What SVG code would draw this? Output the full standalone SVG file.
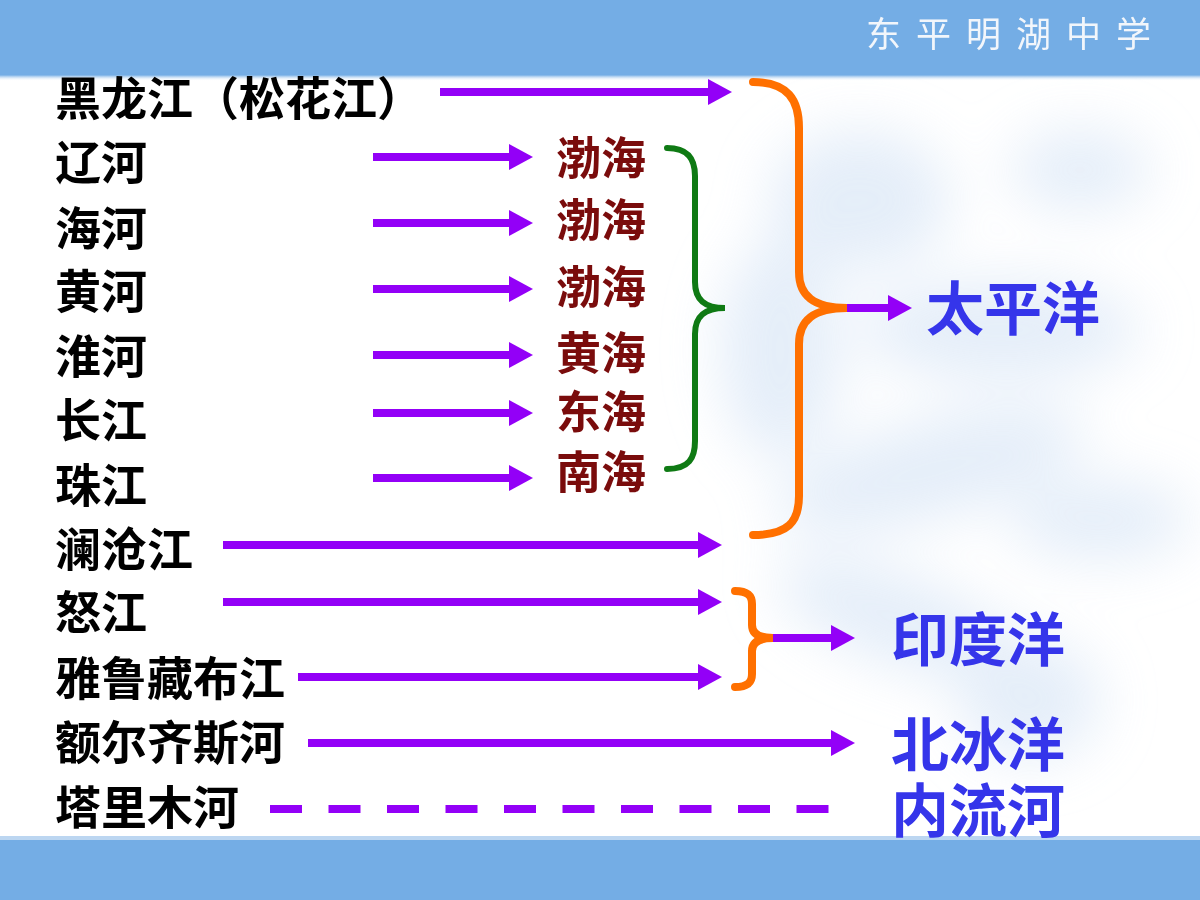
<svg xmlns="http://www.w3.org/2000/svg" width="1200" height="900" viewBox="0 0 1200 900">
<style>
.river{font-family:"Noto Sans CJK SC","Noto Sans CJK JP",sans-serif;font-size:46px;font-weight:700;fill:#000}
.sea{font-family:"Noto Sans CJK SC","Noto Sans CJK JP",sans-serif;font-size:45px;font-weight:700;fill:#7a0c0c}
.ocean{font-family:"Noto Sans CJK SC","Noto Sans CJK JP",sans-serif;font-size:58px;font-weight:700;fill:#3535ea}
.school{font-family:"Noto Sans CJK SC","Noto Sans CJK JP",sans-serif;font-size:35px;font-weight:400;fill:#f2f6fb;letter-spacing:15px}
.arr{stroke:#9300f7;stroke-width:8;fill:none;marker-end:url(#head)}
.dash{stroke:#9300f7;stroke-width:8;fill:none;stroke-dasharray:32 26.5}
.brace-o{stroke:#ff7000;stroke-width:8;fill:none;stroke-linecap:round}
.brace-g{stroke:#0f7a14;stroke-width:6;fill:none;stroke-linecap:round}
</style>
<defs>
<marker id="head" markerUnits="userSpaceOnUse" viewBox="0 0 24 26" refX="0" refY="13" markerWidth="24" markerHeight="26" orient="auto">
<path d="M0,0 L24,13 L0,26 z" fill="#9300f7"/>
</marker>
<linearGradient id="topfade" x1="0" y1="0" x2="0" y2="1">
<stop offset="0" stop-color="#74ade5"/>
<stop offset="1" stop-color="#ffffff" stop-opacity="0"/>
</linearGradient>
<filter id="blur" x="-50%" y="-50%" width="200%" height="200%"><feGaussianBlur stdDeviation="28"/></filter>
</defs>
<rect x="0" y="0" width="1200" height="900" fill="#ffffff"/>
<g id="snowflake" filter="url(#blur)" fill="#dce8f7" opacity="0.75">
<ellipse cx="860" cy="200" rx="90" ry="70"/>
<ellipse cx="1000" cy="330" rx="140" ry="50"/>
<ellipse cx="930" cy="470" rx="160" ry="50" transform="rotate(-15 930 470)"/>
<ellipse cx="1100" cy="520" rx="90" ry="40"/>
<ellipse cx="900" cy="620" rx="130" ry="45" transform="rotate(20 900 620)"/>
<ellipse cx="1030" cy="700" rx="70" ry="60"/>
<ellipse cx="780" cy="350" rx="60" ry="110"/>
<ellipse cx="1080" cy="170" rx="70" ry="40"/>
</g>
<g id="banner-top">
<rect x="0" y="0" width="1200" height="75" fill="#74ade5"/>
<rect x="0" y="75" width="1200" height="6" fill="url(#topfade)"/>
<text class="school" x="866" y="47">东平明湖中学</text>
</g>
<g id="banner-bottom">
<rect x="0" y="840" width="1200" height="60" fill="#74ade5"/>
<rect x="0" y="836" width="1200" height="4" fill="#bcd6f1"/>
</g>
<g id="connectors">
<path class="arr" d="M440,92 L708,92"/>
<path class="arr" d="M373,157 L509,157"/>
<path class="arr" d="M373,223 L509,223"/>
<path class="arr" d="M373,289 L509,289"/>
<path class="arr" d="M373,355 L509,355"/>
<path class="arr" d="M373,413 L509,413"/>
<path class="arr" d="M373,478 L509,478"/>
<path class="arr" d="M223,545 L698,545"/>
<path class="arr" d="M223,602 L698,602"/>
<path class="arr" d="M298,677 L698,677"/>
<path class="arr" d="M308,743 L831,743"/>
<path class="dash" d="M270,809 L830,809"/>
<path class="brace-g" d="M667,148 C689,148 695,160 695,176 L695,282 C695,299 704,308 725,308 C704,308 695,317 695,334 L695,441 C695,458 689,469 667,469"/>
<path class="brace-o" d="M753,82 C788,82 799,100 799,128 L799,272 C799,296 814,308 847,308 C814,308 799,320 799,344 L799,496 C799,522 788,535 753,535"/>
<path class="arr" d="M847,308 L888,308"/>
<path class="brace-o" d="M735,591 C748,591 752,596 752,604 L752,625 C752,633 758,638 773,638 C758,638 752,643 752,651 L752,674 C752,682 748,687 735,687"/>
<path class="arr" d="M773,638 L831,638"/>
</g>
<g id="river-heilongjiang"><text class="river" x="55" y="115">黑龙江（松花江）</text></g>
<g id="river-liaohe"><text class="river" x="55" y="179">辽河</text></g>
<g id="river-haihe"><text class="river" x="55" y="245">海河</text></g>
<g id="river-huanghe"><text class="river" x="55" y="308">黄河</text></g>
<g id="river-huaihe"><text class="river" x="55" y="373">淮河</text></g>
<g id="river-changjiang"><text class="river" x="55" y="437">长江</text></g>
<g id="river-zhujiang"><text class="river" x="55" y="502">珠江</text></g>
<g id="river-lancangjiang"><text class="river" x="55" y="566">澜沧江</text></g>
<g id="river-nujiang"><text class="river" x="55" y="629">怒江</text></g>
<g id="river-yarlung"><text class="river" x="55" y="695">雅鲁藏布江</text></g>
<g id="river-irtysh"><text class="river" x="55" y="759">额尔齐斯河</text></g>
<g id="river-tarim"><text class="river" x="55" y="824">塔里木河</text></g>
<g id="sea-bohai-1"><text class="sea" x="556" y="175">渤海</text></g>
<g id="sea-bohai-2"><text class="sea" x="556" y="237">渤海</text></g>
<g id="sea-bohai-3"><text class="sea" x="556" y="304">渤海</text></g>
<g id="sea-huanghai"><text class="sea" x="556" y="370">黄海</text></g>
<g id="sea-donghai"><text class="sea" x="556" y="429">东海</text></g>
<g id="sea-nanhai"><text class="sea" x="556" y="489">南海</text></g>
<g id="ocean-pacific"><text class="ocean" x="926" y="330">太平洋</text></g>
<g id="ocean-indian"><text class="ocean" x="891" y="661">印度洋</text></g>
<g id="ocean-arctic"><text class="ocean" x="891" y="766">北冰洋</text></g>
<g id="inland"><text class="ocean" x="891" y="832">内流河</text></g>
</svg>
